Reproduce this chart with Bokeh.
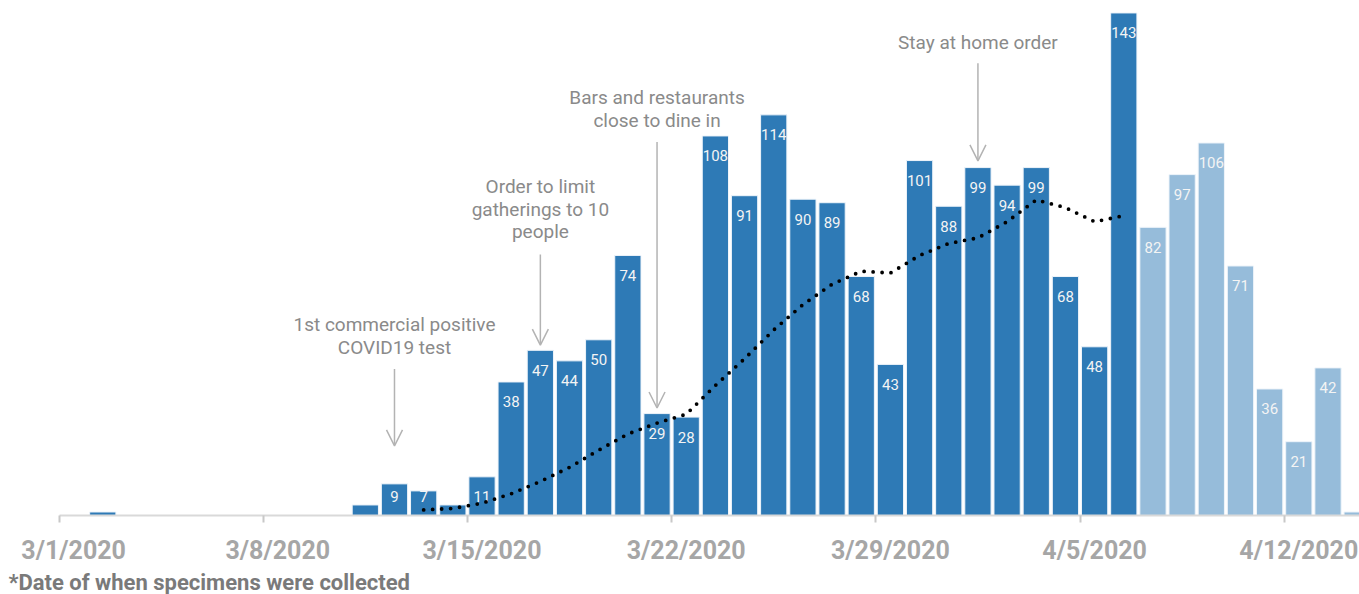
from bokeh.plotting import figure
from bokeh.models import ColumnDataSource, FixedTicker, Arrow, OpenHead, Range1d, Title
from bokeh.embed import file_html
from bokeh.resources import INLINE
from bokeh.core.properties import value

# ---- data ----
day = list(range(45))  # days since 3/1/2020
cases = [0, 1, 0, 0, 0, 0, 0, 0, 0, 0,
         3, 9, 7, 3, 11, 38, 47, 44, 50, 74,
         29, 28, 108, 91, 114, 90, 89, 68, 43, 101,
         88, 99, 94, 99, 68, 48, 143, 82, 97, 106,
         71, 36, 21, 42, 1]
status = ["final"] * 37 + ["pending"] * 8

ma_day = list(range(12, 37))
ma_val = [1.6, 2.0, 3.5, 6.2, 9.7, 13.7, 18.6, 23.2, 26.3, 28.8,
          37.0, 44.6, 52.8, 60.0, 65.8, 69.5, 69.0, 74.0, 77.4, 79.0,
          83.6, 89.8, 87.6, 83.6, 85.3]

tick_days = [0, 7, 14, 21, 28, 35, 42]
tick_labels = ["3/1/2020", "3/8/2020", "3/15/2020", "3/22/2020",
               "3/29/2020", "4/5/2020", "4/12/2020"]

notes = ["1st commercial positive\nCOVID19 test",
         "Order to limit\ngatherings to 10\npeople",
         "Bars and restaurants\nclose to dine in",
         "Stay at home order"]
note_day = [11, 16, 20, 31]

footnote = "*Date of when specimens were collected"

# ---- styling ----
DARK = "#2E7AB6"
LIGHT = "#96BCDA"
Y_END = 517 / 3.528
PX_PER_UNIT = 517 / Y_END

p = figure(width=1359, height=594,
           x_range=Range1d(-2.506, 44.08), y_range=Range1d(0, Y_END),
           output_backend="svg", toolbar_location=None,
           y_axis_location=None,
           min_border_left=0, min_border_right=0, min_border_top=0,
           min_border_bottom=77)
p.grid.visible = False
p.outline_line_color = None
p.background_fill_color = "white"
p.border_fill_color = "white"

# bars (each day's bar is centred on its day value)
bx, bt, bc = [], [], []
for d, v, s in zip(day, cases, status):
    if v > 0:
        bx.append(d)
        bt.append(v)
        bc.append(DARK if s == "final" else LIGHT)
bars = ColumnDataSource(dict(x=bx, top=bt, color=bc))
p.vbar(x="x", top="top", bottom=0, width=0.9, source=bars,
       fill_color="color", line_color="#eef4fa", line_width=1)

# bar value labels (inside end)
lx, ly, lt = [], [], []
for d, v in zip(day, cases):
    if v >= 5:
        lx.append(d)
        ly.append(max(v - 20 / PX_PER_UNIT, 19 / PX_PER_UNIT))
        lt.append(str(v))
p.text(x=lx, y=ly, text=lt, text_font=value("Roboto"), text_font_size="15px",
       text_color="#f4f4f4", text_align="center", text_baseline="middle")

# moving average (dotted)
p.line(x=ma_day, y=ma_val, line_color="black", line_width=3.8,
       line_dash="0 9", line_cap="round")

# annotations
note_line_y = [[54.4, 47.9], [93.5, 87.0, 80.8], [118.8, 112.5], [134.6]]
arrow_y = [(41.7, 19.8), (74.3, 48.5), (106.3, 30.6), (128.7, 100.9)]
tx, ty, tt = [], [], []
for txt, d, ys in zip(notes, note_day, note_line_y):
    for line, yy in zip(txt.split("\n"), ys):
        tx.append(d)
        ty.append(yy)
        tt.append(line)
p.text(x=tx, y=ty, text=tt, text_font=value("Roboto"), text_font_size="19px",
       text_color="#8a8a8a", text_align="center", text_baseline="middle")

arr = ColumnDataSource(dict(x0=note_day, y0=[a[0] for a in arrow_y],
                            x1=note_day, y1=[a[1] for a in arrow_y]))
p.add_layout(Arrow(end=OpenHead(size=16, line_color="#b3b3b3", line_width=1.5),
                   x_start="x0", y_start="y0", x_end="x1", y_end="y1", source=arr,
                   line_color="#b3b3b3", line_width=1.5))

# x axis: labels centred on the day, tick marks at the day boundaries
ax = p.xaxis[0]
ax.ticker = FixedTicker(ticks=tick_days, minor_ticks=[d - 0.5 for d in tick_days])
ax.major_label_overrides = {d: l for d, l in zip(tick_days, tick_labels)}
ax.bounds = (-0.5, 44.08)
ax.axis_line_color = "#d9d9d9"
ax.axis_line_width = 2
ax.major_tick_line_color = None
ax.major_tick_in = 0
ax.major_tick_out = 0
ax.minor_tick_line_color = "#c8c8c8"
ax.minor_tick_line_width = 2
ax.minor_tick_in = 0
ax.minor_tick_out = 7
ax.major_label_standoff = 13
ax.major_label_text_font = "Roboto"
ax.major_label_text_font_size = "25px"
ax.major_label_text_font_style = "bold"
ax.major_label_text_color = "#a6a6a6"

# footnote
p.add_layout(Title(text=footnote, align="left", offset=8, standoff=0,
                   text_font="Roboto", text_font_style="bold",
                   text_font_size="22px", text_color="#7a7a7a"), "below")

open("out.html", "w").write(file_html(p, INLINE))
